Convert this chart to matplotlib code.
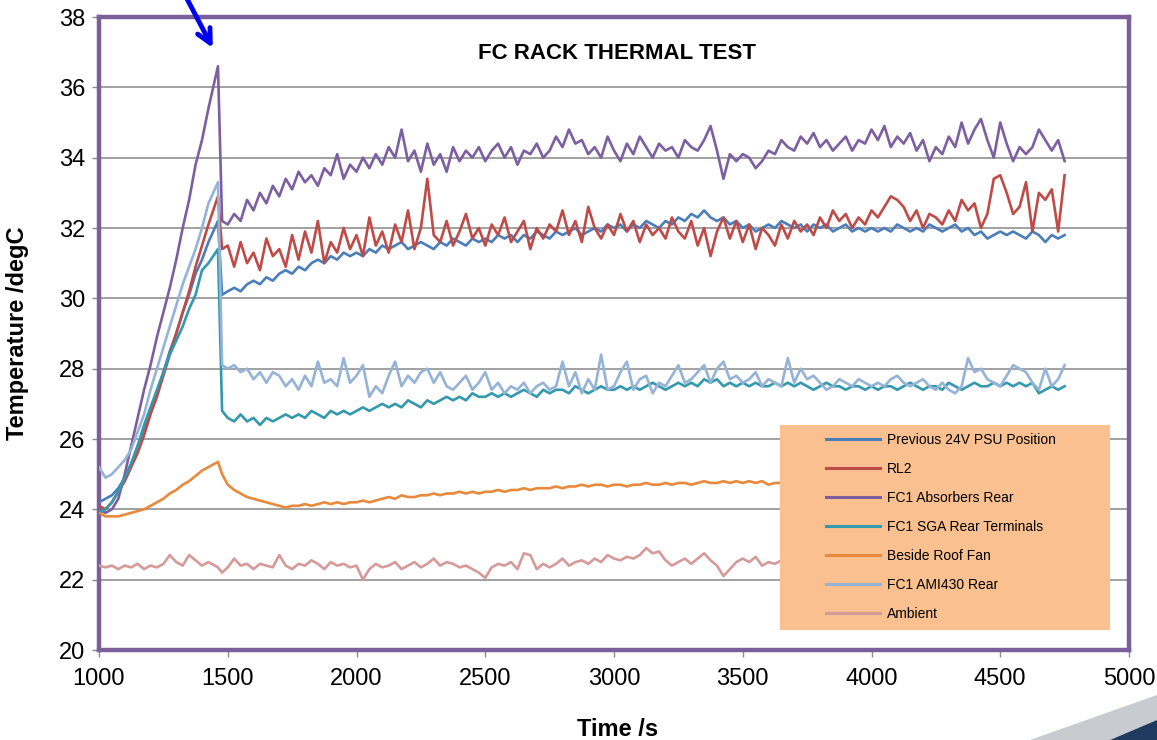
import numpy as np
import matplotlib
matplotlib.use("Agg")
import matplotlib.pyplot as plt
from matplotlib.patches import Rectangle, Polygon

plt.rcParams['font.family'] = ['Liberation Sans', 'DejaVu Sans']

# time axis, one reading every 25 s (two extra readings around the peak)
time = np.r_[np.arange(1000, 1450, 25), 1462, 1478, np.arange(1500, 4751, 25)]

labels = ["Previous 24V PSU Position", "RL2", "FC1 Absorbers Rear",
          "FC1 SGA Rear Terminals", "Beside Roof Fan", "FC1 AMI430 Rear", "Ambient"]
colors = ["#4A7EBB", "#BE4B48", "#7D5FA0", "#3399AC", "#E8893C", "#95B3D7", "#D59A99"]

psu24 = [
    24.2, 24.3, 24.4, 24.6, 24.9, 25.3, 25.8, 26.3, 26.8, 27.3, 27.9, 28.5, 29.0, 29.6, 30.1, 30.7, 31.1, 31.6, 32.2, 30.1,
    30.2, 30.3, 30.2, 30.4, 30.5, 30.4, 30.6, 30.5, 30.7, 30.8, 30.7, 30.9, 30.8, 31.0, 31.1, 31.0, 31.2, 31.1, 31.3, 31.2,
    31.3, 31.2, 31.4, 31.3, 31.5, 31.4, 31.5, 31.6, 31.4, 31.5, 31.6, 31.5, 31.4, 31.6, 31.5, 31.7, 31.6, 31.5, 31.7, 31.6,
    31.7, 31.6, 31.8, 31.7, 31.8, 31.6, 31.8, 31.7, 31.9, 31.8, 31.7, 31.9, 31.8, 31.9, 32.0, 31.8, 31.9, 32.0, 31.9, 32.1,
    32.0, 32.1, 31.9, 32.1, 32.0, 32.2, 32.1, 32.0, 32.2, 32.1, 32.3, 32.2, 32.4, 32.3, 32.5, 32.3, 32.2, 32.3, 32.1, 32.2,
    32.0, 32.1, 31.9, 32.0, 32.1, 32.0, 32.2, 32.1, 32.0, 32.1, 31.9, 32.1, 32.0, 32.1, 31.9, 32.0, 32.1, 31.9, 32.0, 31.9,
    32.0, 31.9, 32.0, 31.9, 32.1, 32.0, 31.9, 32.0, 31.9, 32.1, 32.0, 31.9, 32.0, 32.1, 31.9, 32.0, 31.8, 31.9, 31.7, 31.8,
    31.9, 31.8, 31.9, 31.8, 31.7, 31.9, 31.8, 31.6, 31.8, 31.7, 31.8]

rl2 = [
    24.1, 24.0, 24.2, 24.5, 24.8, 25.2, 25.6, 26.1, 26.7, 27.2, 27.8, 28.4, 29.0, 29.6, 30.2, 30.9, 31.5, 32.1, 32.9, 31.4,
    31.5, 30.9, 31.6, 31.0, 31.3, 30.8, 31.7, 31.2, 31.4, 30.9, 31.8, 31.1, 31.9, 31.3, 32.2, 31.0, 31.6, 31.3, 32.0, 31.4,
    31.8, 31.2, 32.3, 31.5, 31.9, 31.3, 32.1, 31.6, 32.5, 31.4, 32.0, 33.4, 31.8, 31.6, 32.2, 31.5, 31.9, 32.4, 31.7, 32.0,
    31.5, 32.1, 31.8, 32.3, 31.6, 31.9, 32.2, 31.4, 32.0, 31.7, 32.1, 31.9, 32.5, 31.8, 32.2, 31.6, 32.6, 32.0, 31.7, 32.1,
    31.8, 32.4, 31.9, 32.2, 31.6, 32.1, 31.8, 32.0, 31.7, 32.3, 31.9, 31.7, 32.2, 31.5, 32.0, 31.2, 31.9, 32.3, 31.7, 32.2,
    31.6, 32.1, 31.4, 32.0, 31.8, 31.5, 32.1, 31.7, 32.2, 31.9, 32.1, 31.8, 32.3, 32.0, 32.5, 32.2, 32.4, 32.0, 32.3, 32.1,
    32.5, 32.3, 32.6, 32.9, 32.8, 32.6, 32.2, 32.5, 32.0, 32.4, 32.3, 32.1, 32.5, 32.2, 32.8, 32.5, 32.7, 32.0, 32.4, 33.4,
    33.5, 33.0, 32.4, 32.6, 33.3, 31.9, 33.0, 32.8, 33.1, 31.9, 33.5]

absorbers = [
    24.0, 23.9, 24.0, 24.3, 25.0, 25.8, 26.6, 27.4, 28.1, 28.9, 29.6, 30.3, 31.1, 32.0, 32.8, 33.8, 34.5, 35.4, 36.6, 32.2,
    32.1, 32.4, 32.2, 32.8, 32.5, 33.0, 32.7, 33.2, 32.9, 33.4, 33.1, 33.6, 33.3, 33.5, 33.2, 33.7, 33.5, 34.1, 33.4, 33.8,
    33.6, 34.0, 33.7, 34.1, 33.8, 34.3, 34.0, 34.8, 33.9, 34.2, 33.6, 34.4, 33.8, 34.1, 33.6, 34.3, 33.9, 34.2, 34.0, 34.3,
    33.9, 34.2, 34.4, 34.0, 34.3, 33.8, 34.2, 34.1, 34.4, 34.0, 34.2, 34.6, 34.3, 34.8, 34.4, 34.5, 34.1, 34.3, 34.0, 34.6,
    34.2, 33.9, 34.4, 34.1, 34.6, 34.3, 34.0, 34.4, 34.2, 34.3, 34.0, 34.5, 34.3, 34.2, 34.5, 34.9, 34.2, 33.4, 34.1, 33.9,
    34.1, 34.0, 33.7, 33.9, 34.2, 34.1, 34.5, 34.3, 34.2, 34.6, 34.4, 34.7, 34.3, 34.5, 34.2, 34.4, 34.6, 34.2, 34.5, 34.4,
    34.8, 34.5, 34.9, 34.3, 34.6, 34.4, 34.7, 34.2, 34.5, 33.9, 34.3, 34.1, 34.6, 34.3, 35.0, 34.4, 34.8, 35.1, 34.5, 34.0,
    35.0, 34.4, 33.9, 34.3, 34.1, 34.3, 34.8, 34.5, 34.2, 34.5, 33.9]

sga_terminals = [
    23.9, 24.0, 24.2, 24.5, 24.9, 25.3, 25.8, 26.4, 26.9, 27.4, 27.9, 28.4, 28.8, 29.2, 29.7, 30.1, 30.8, 31.0, 31.4, 26.8,
    26.6, 26.5, 26.7, 26.5, 26.6, 26.4, 26.6, 26.5, 26.6, 26.7, 26.6, 26.7, 26.6, 26.8, 26.7, 26.6, 26.8, 26.7, 26.8, 26.7,
    26.8, 26.9, 26.8, 26.9, 27.0, 26.9, 27.0, 26.9, 27.1, 27.0, 26.9, 27.1, 27.0, 27.1, 27.2, 27.1, 27.2, 27.1, 27.3, 27.2,
    27.2, 27.3, 27.2, 27.3, 27.2, 27.3, 27.4, 27.3, 27.2, 27.4, 27.3, 27.4, 27.4, 27.3, 27.5, 27.4, 27.3, 27.4, 27.5, 27.4,
    27.4, 27.5, 27.4, 27.5, 27.4, 27.5, 27.6, 27.5, 27.4, 27.5, 27.6, 27.5, 27.6, 27.5, 27.7, 27.6, 27.7, 27.5, 27.6, 27.5,
    27.6, 27.5, 27.6, 27.5, 27.5, 27.6, 27.5, 27.6, 27.5, 27.6, 27.5, 27.4, 27.5, 27.6, 27.5, 27.5, 27.4, 27.5, 27.5, 27.4,
    27.5, 27.4, 27.5, 27.5, 27.4, 27.5, 27.6, 27.5, 27.4, 27.5, 27.5, 27.4, 27.6, 27.5, 27.4, 27.5, 27.6, 27.5, 27.5, 27.6,
    27.5, 27.6, 27.5, 27.6, 27.5, 27.6, 27.3, 27.4, 27.5, 27.4, 27.5]

roof_fan = [
    23.9, 23.8, 23.8, 23.8, 23.85, 23.9, 23.95, 24.0, 24.1, 24.2, 24.3, 24.45, 24.55, 24.7, 24.8, 24.95, 25.1, 25.2, 25.35, 25.0,
    24.7, 24.55, 24.45, 24.35, 24.3, 24.25, 24.2, 24.15, 24.1, 24.05, 24.1, 24.1, 24.15, 24.1, 24.15, 24.2, 24.15, 24.2, 24.15, 24.2,
    24.2, 24.25, 24.2, 24.25, 24.3, 24.35, 24.3, 24.4, 24.35, 24.35, 24.4, 24.4, 24.45, 24.4, 24.45, 24.45, 24.5, 24.45, 24.5, 24.45,
    24.5, 24.5, 24.55, 24.5, 24.55, 24.55, 24.6, 24.55, 24.6, 24.6, 24.6, 24.65, 24.6, 24.65, 24.65, 24.7, 24.65, 24.7, 24.7, 24.65,
    24.7, 24.7, 24.65, 24.7, 24.7, 24.75, 24.7, 24.7, 24.75, 24.7, 24.75, 24.75, 24.7, 24.75, 24.8, 24.75, 24.75, 24.8, 24.75, 24.8,
    24.75, 24.8, 24.75, 24.8, 24.7, 24.75, 24.75, 24.8, 24.75, 24.8, 24.8, 24.75, 24.8, 24.8, 24.75, 24.8, 24.8, 24.85, 24.8, 24.8,
    24.8, 24.85, 24.8, 24.8, 24.85, 24.8, 24.85, 24.8, 24.85, 24.85, 24.8, 24.85, 24.9, 24.85, 24.8, 24.85, 24.9, 24.85, 24.85, 24.9,
    24.85, 24.9, 24.85, 24.9, 24.85, 24.9, 24.9, 24.85, 24.9, 24.85, 24.9]

ami430 = [
    25.2, 24.9, 25.0, 25.2, 25.4, 25.7, 26.2, 26.7, 27.4, 28.0, 28.6, 29.2, 29.8, 30.4, 30.9, 31.4, 32.0, 32.7, 33.3, 28.1,
    28.0, 28.1, 27.9, 28.0, 27.7, 27.9, 27.6, 27.9, 27.8, 27.5, 27.7, 27.4, 27.8, 27.5, 28.2, 27.6, 27.7, 27.5, 28.3, 27.6,
    27.8, 28.1, 27.2, 27.5, 27.3, 27.8, 28.2, 27.5, 27.8, 27.6, 27.9, 28.0, 27.6, 27.9, 27.5, 27.4, 27.6, 27.8, 27.4, 27.6,
    27.9, 27.4, 27.6, 27.3, 27.5, 27.4, 27.6, 27.3, 27.5, 27.6, 27.4, 27.5, 28.2, 27.5, 27.9, 27.3, 27.7, 27.4, 28.4, 27.4,
    27.5, 27.9, 28.2, 27.4, 27.7, 27.8, 27.3, 27.6, 27.5, 27.8, 28.1, 27.6, 27.7, 27.9, 28.1, 27.6, 28.0, 28.2, 27.7, 27.8,
    27.6, 27.7, 27.9, 27.5, 27.7, 27.6, 27.5, 28.3, 27.6, 28.0, 27.7, 27.8, 27.6, 27.4, 27.5, 27.7, 27.6, 27.5, 27.7, 27.6,
    27.5, 27.6, 27.5, 27.7, 27.8, 27.6, 27.5, 27.6, 27.7, 27.5, 27.4, 27.6, 27.4, 27.3, 27.5, 28.3, 27.9, 28.0, 27.7, 27.6,
    27.5, 27.8, 28.1, 28.0, 27.9, 27.6, 27.4, 28.0, 27.5, 27.7, 28.1]

ambient = [
    22.4, 22.35, 22.4, 22.3, 22.4, 22.35, 22.45, 22.3, 22.4, 22.35, 22.45, 22.7, 22.5, 22.4, 22.7, 22.55, 22.4, 22.5, 22.35, 22.2,
    22.35, 22.6, 22.4, 22.45, 22.3, 22.45, 22.4, 22.35, 22.7, 22.4, 22.3, 22.45, 22.4, 22.55, 22.45, 22.3, 22.5, 22.4, 22.45, 22.35,
    22.4, 22.0, 22.3, 22.45, 22.35, 22.4, 22.5, 22.3, 22.4, 22.5, 22.35, 22.45, 22.6, 22.4, 22.5, 22.45, 22.35, 22.4, 22.3, 22.2,
    22.05, 22.35, 22.45, 22.4, 22.5, 22.3, 22.75, 22.7, 22.3, 22.45, 22.35, 22.45, 22.6, 22.4, 22.5, 22.55, 22.45, 22.6, 22.5, 22.7,
    22.6, 22.55, 22.65, 22.6, 22.7, 22.9, 22.75, 22.8, 22.55, 22.4, 22.5, 22.6, 22.45, 22.6, 22.75, 22.55, 22.4, 22.1, 22.3, 22.5,
    22.6, 22.5, 22.65, 22.4, 22.5, 22.45, 22.55, 22.4, 22.5, 22.6, 22.45, 22.5, 22.4, 22.55, 22.5, 22.45, 22.6, 22.5, 22.4, 22.5,
    22.45, 22.55, 22.5, 22.4, 22.6, 22.5, 22.45, 22.55, 22.4, 22.5, 22.6, 22.45, 22.5, 22.55, 22.4, 22.5, 22.45, 22.6, 22.5, 22.45,
    22.5, 22.55, 22.4, 22.5, 22.6, 22.45, 22.5, 22.4, 22.55, 22.5, 22.45]

series = [psu24, rl2, absorbers, sga_terminals, roof_fan, ami430, ambient]

frame_col = "#7A5F9B"

fig = plt.figure(figsize=(11.57, 7.40), dpi=100)
ax = fig.add_axes([99 / 1157, 90 / 740, 1030 / 1157, 633 / 740])

for vals, lab, col in zip(series, labels, colors):
    ax.plot(time, vals, color=col, lw=1.9, label=lab, zorder=3)

ax.set_xlim(1000, 5000)
ax.set_ylim(20, 38)
ax.set_xticks(range(1000, 5001, 500))
ax.set_yticks(range(20, 39, 2))
ax.grid(axis='y', color='#9a9a9a', lw=1.3, zorder=1)
ax.set_axisbelow(True)
for s in ax.spines.values():
    s.set_color(frame_col)
    s.set_linewidth(3.2)
ax.tick_params(axis='both', colors='#8c8c8c', labelcolor='black', labelsize=17, length=5, width=1)
ax.tick_params(axis='x', pad=8)
ax.tick_params(axis='y', pad=5)

ax.set_xlabel("Time /s", fontsize=17, fontweight='bold')
ax.xaxis.set_label_coords(0.503, -0.108)
ax.set_ylabel("Temperature /degC", fontsize=17, fontweight='bold')
ax.yaxis.set_label_coords(-0.068, 0.5)

ax.text(0.503, 0.943, "FC RACK THERMAL TEST", transform=ax.transAxes,
        ha='center', va='center', fontsize=16, fontweight='bold')

# legend box
ax.add_patch(Rectangle((0.661, 0.032), 0.321, 0.323, transform=ax.transAxes,
                       facecolor='#FAC090', edgecolor='none', zorder=5))
leg = ax.legend(loc='upper left', bbox_to_anchor=(0.706, 0.343), frameon=False,
                fontsize=10, handlelength=3.9, handletextpad=0.45, labelspacing=1.08,
                borderpad=0, borderaxespad=0)
leg.set_zorder(6)
for ln in leg.get_lines():
    ln.set_linewidth(2.2)

# arrow pointing at the peak
ax.annotate("", xy=(1447, 37.05), xycoords='data', xytext=(185, 745), textcoords='figure pixels',
            arrowprops=dict(arrowstyle='->,head_length=1.0,head_width=0.5', lw=3.5, color='#0000F0'),
            annotation_clip=False, zorder=7)

# slide decoration bottom right
fig.patches.append(Polygon([(1030, 0), (1157, 45), (1157, 20), (1110, 0)], closed=True,
                           transform=None, facecolor='#C8CCD0', edgecolor='none'))
fig.patches.append(Polygon([(1110, 0), (1157, 20), (1157, 0)], closed=True,
                           transform=None, facecolor='#1F3A5F', edgecolor='none'))

fig.savefig("out.png", dpi=100)
